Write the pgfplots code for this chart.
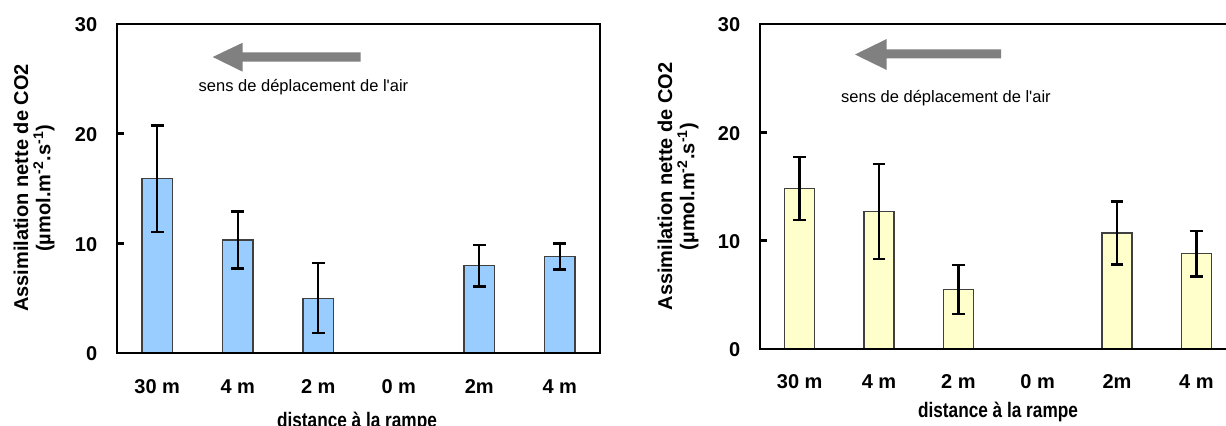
\documentclass[border=0pt]{standalone}
\usepackage{fontspec}
\setmainfont{Liberation Sans}
\usepackage{pgfplots}
\pgfplotsset{compat=1.18}
\usepackage{pgfplotstable}
\definecolor{barblue}{HTML}{99CCFF}
\definecolor{baryellow}{HTML}{FFFFCC}
\definecolor{arrowgray}{HTML}{808080}
\definecolor{baredge}{HTML}{404040}

\pgfplotstableread{
x y e
0 15.9 4.85
1 10.3 2.6
2 5.0 3.2
4 7.95 1.9
5 8.8 1.2
}\leftdata

\pgfplotstableread{
x y e
0 14.8 2.9
1 12.7 4.4
2 5.5 2.25
4 10.7 2.9
5 8.8 2.1
}\rightdata

\pgfplotsset{
  panel/.style={
    scale only axis,
    xmin=-0.5, xmax=5.5, ymin=0, ymax=30,
    xtick={0,1,2,3,4,5},
    xticklabels={30 m,4 m,2 m,0 m,2m,4 m},
    ytick={0,10,20,30},
    ytick pos=left,
    xtick style={draw=none},
    ytick style={black, line width=1.2pt},
    major tick length=3.5pt,
    axis line style={black, line width=1.2pt},
    tick label style={font=\fontsize{10}{12}\selectfont\bfseries},
    /pgf/number format/assume math mode=true,
    yticklabel style={anchor=east, xshift=-6.4pt, yshift=-0.5pt},
    ybar, bar width=0.38,
    axis on top,
  },
  errs/.style={
    draw=baredge, line width=0.6pt,
    error bars/.cd, y dir=both, y explicit,
    error bar style={line width=1.2pt, black},
    error mark options={rotate=90, mark size=3.2pt, line width=1.2pt, black},
  },
}

\begin{document}
\begin{tikzpicture}
\path[use as bounding box] (0,0) rectangle (613pt,212.5pt);
\clip (0,0) rectangle (613pt,212.5pt);

% left panel
\begin{axis}[panel, at={(58.5pt,36pt)}, anchor=south west,
  width=241.5pt, height=164.5pt,
  xticklabel style={anchor=center, yshift=-13.5pt}]
\addplot[fill=barblue, errs] table[x=x, y=y, y error=e] {\leftdata};
\end{axis}

% right panel
\begin{axis}[panel, at={(380pt,38pt)}, anchor=south west,
  width=238pt, height=162.5pt,
  xticklabel style={anchor=center, yshift=-13pt}]
\addplot[fill=baryellow, errs] table[x=x, y=y, y error=e] {\rightdata};
\end{axis}

% arrows
\fill[arrowgray] (106.35pt,184pt) -- (121.35pt,191.15pt) -- (121.35pt,186.35pt) -- (180.35pt,186.35pt)
  -- (180.35pt,181.65pt) -- (121.35pt,181.65pt) -- (121.35pt,176.65pt) -- cycle;
\fill[arrowgray] (427.5pt,185.25pt) -- (443.35pt,193pt) -- (443.35pt,187.85pt) -- (500.5pt,187.85pt)
  -- (500.5pt,183.35pt) -- (443.35pt,183.35pt) -- (443.35pt,177.5pt) -- cycle;

\node[font=\fontsize{8.25}{10}\selectfont, inner sep=0pt] at (151.75pt,169pt) {sens de déplacement de l\textquotesingle air};
\node[font=\fontsize{8.25}{10}\selectfont, inner sep=0pt] at (473pt,163.5pt) {sens de déplacement de l\textquotesingle air};

% x labels
\node[font=\fontsize{10.5}{12}\selectfont\bfseries, anchor=base, inner sep=0pt] at (178.5pt,-1pt) {\scalebox{0.82}[1]{distance à la rampe}};
\node[font=\fontsize{10.5}{12}\selectfont\bfseries, anchor=base, inner sep=0pt] at (499pt,4pt) {\scalebox{0.82}[1]{distance à la rampe}};

% y labels
\node[font=\fontsize{10}{12}\selectfont\bfseries, rotate=90, inner sep=0pt] at (10.5pt,118.5pt) {Assimilation nette de CO2};
\node[font=\fontsize{10}{12}\selectfont\bfseries, rotate=90, inner sep=0pt] at (22pt,118.5pt) {(µmol.m\textsuperscript{-2}.s\textsuperscript{-1})};
\node[font=\fontsize{10}{12}\selectfont\bfseries, rotate=90, inner sep=0pt] at (332.5pt,119.25pt) {Assimilation nette de CO2};
\node[font=\fontsize{10}{12}\selectfont\bfseries, rotate=90, inner sep=0pt] at (344pt,119.25pt) {(µmol.m\textsuperscript{-2}.s\textsuperscript{-1})};
\end{tikzpicture}
\end{document}
